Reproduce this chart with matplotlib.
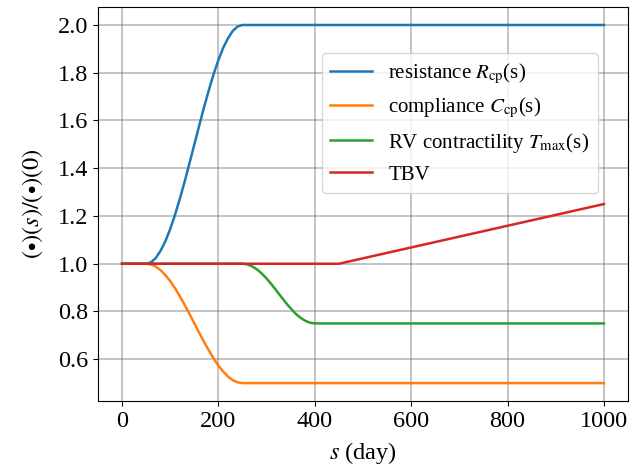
import numpy as np
import matplotlib
matplotlib.use('Agg')
import matplotlib.pyplot as plt

plt.rcParams['font.family'] = ['Liberation Serif', 'DejaVu Serif']
plt.rcParams['mathtext.fontset'] = 'stix'

# values (s in days)
s_res = [0, 50, 60, 70, 80, 90, 100, 110, 120, 130, 140, 150, 160, 170,
         180, 190, 200, 210, 220, 230, 240, 250, 1000]
resistance = [1.0, 1.000, 1.006, 1.024, 1.055, 1.095, 1.146, 1.206, 1.273,
              1.345, 1.422, 1.500, 1.578, 1.655, 1.727, 1.794, 1.854, 1.905,
              1.945, 1.976, 1.994, 2.000, 2.0]

s_comp = s_res
compliance = [1.0, 1.000, 0.997, 0.988, 0.973, 0.952, 0.927, 0.897, 0.863,
              0.827, 0.789, 0.750, 0.711, 0.673, 0.637, 0.603, 0.573, 0.548,
              0.527, 0.512, 0.503, 0.500, 0.5]

s_tmax = [0, 250, 260, 270, 280, 290, 300, 310, 320, 330, 340, 350, 360,
          370, 380, 390, 400, 1000]
contractility = [1.0, 1.000, 0.997, 0.989, 0.976, 0.959, 0.938, 0.914, 0.888,
                 0.862, 0.836, 0.813, 0.791, 0.774, 0.761, 0.753, 0.750, 0.75]

s_tbv = [0, 450, 1000]
tbv = [1.0, 1.0, 1.25]

labels = [r'resistance $R_{\rm cp}$(s)', r'compliance $C_{\rm cp}$(s)',
          r'RV contractility $T_{\rm max}$(s)', 'TBV']

fig = plt.figure(figsize=(6.43, 4.72), dpi=100)
ax = fig.add_axes([0.1524, 0.1504, 0.8243, 0.8346])

ax.plot(s_res, resistance, color='C0', lw=1.8, label=labels[0])
ax.plot(s_comp, compliance, color='C1', lw=1.8, label=labels[1])
ax.plot(s_tmax, contractility, color='C2', lw=1.8, label=labels[2])
ax.plot(s_tbv, tbv, color='C3', lw=1.8, label=labels[3])

ax.set_xticks([0, 200, 400, 600, 800, 1000])
ax.set_yticks([0.6, 0.8, 1.0, 1.2, 1.4, 1.6, 1.8, 2.0])
ax.tick_params(labelsize=17.5)
ax.grid(True, color='0.4', alpha=0.45, lw=1.2)
ax.set_xlabel(r'$s$ (day)', fontsize=17.5, labelpad=6)
ax.set_ylabel(r'$(\bullet)(s)/(\bullet)(0)$', fontsize=17.5, labelpad=9)

ax.legend(loc='upper right', bbox_to_anchor=(0.943, 0.883), borderaxespad=0,
          fontsize=15)

fig.savefig('out.png', dpi=100)
